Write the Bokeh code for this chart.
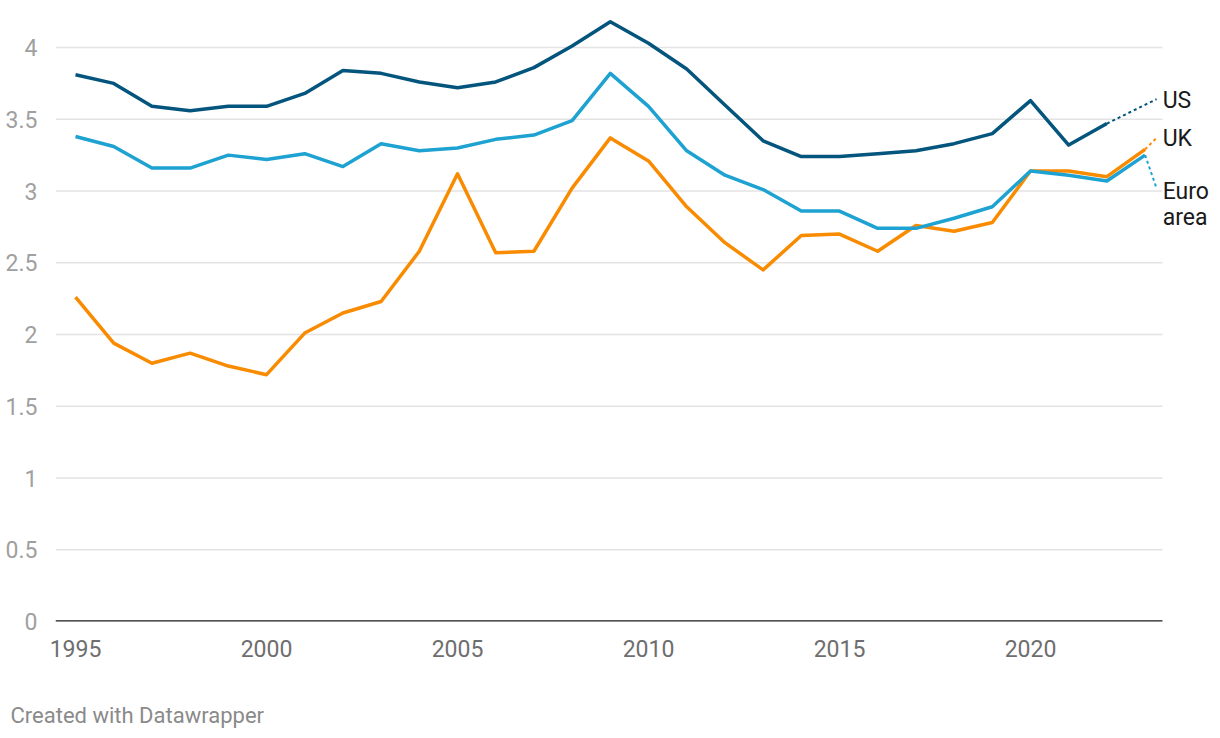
from bokeh.plotting import figure
from bokeh.models import Range1d, FixedTicker, Label, Title
from bokeh.embed import file_html
from bokeh.resources import INLINE

years = list(range(1995, 2024))

us = [3.81, 3.75, 3.59, 3.56, 3.59, 3.59, 3.68, 3.84, 3.82, 3.76, 3.72, 3.76, 3.86,
      4.01, 4.18, 4.03, 3.85, 3.60, 3.35, 3.24, 3.24, 3.26, 3.28, 3.33, 3.40, 3.63,
      3.32, 3.47]
euro = [3.38, 3.31, 3.16, 3.16, 3.25, 3.22, 3.26, 3.17, 3.33, 3.28, 3.30, 3.36, 3.39,
        3.49, 3.82, 3.59, 3.28, 3.11, 3.01, 2.86, 2.86, 2.74, 2.74, 2.81, 2.89, 3.14,
        3.11, 3.07, 3.25]
uk = [2.26, 1.94, 1.80, 1.87, 1.78, 1.72, 2.01, 2.15, 2.23, 2.58, 3.12, 2.57, 2.58,
      3.02, 3.37, 3.21, 2.89, 2.64, 2.45, 2.69, 2.70, 2.58, 2.76, 2.72, 2.78, 3.14,
      3.14, 3.10, 3.29]

series_names = ["US", "UK", "Euro area"]
series_colors = ["#03557d", "#f98b00", "#1ea2d2"]
label_texts = [["US"], ["UK"], ["Euro", "area"]]
label_y = [3.63, 3.365, 3.0]
connector_y = [3.64, 3.37, 3.02]

x_ticks = [1995, 2000, 2005, 2010, 2015, 2020]
y_ticks = [0, 0.5, 1, 1.5, 2, 2.5, 3, 3.5, 4]
y_tick_labels = ["0", "0.5", "1", "1.5", "2", "2.5", "3", "3.5", "4"]

FONT = "Roboto"

X_START = 1994.476
PLOT_END = 2023.455     # where grid and axis line stop
CONNECTOR_X = 2023.30
LABEL_X = 2023.46

p = figure(width=1220, height=738, output_backend="svg", toolbar_location=None,
           x_range=Range1d(X_START, 2024.843), y_range=Range1d(0, 4.244),
           min_border_left=55, min_border_right=5, min_border_top=12,
           min_border_bottom=117)
p.outline_line_color = None
p.background_fill_color = "white"
p.border_fill_color = "white"

p.xgrid.grid_line_color = None
p.ygrid.grid_line_color = None

# horizontal grid lines stopping at the plot's right edge
p.segment(x0=[X_START] * (len(y_ticks) - 1), y0=y_ticks[1:],
          x1=[PLOT_END] * (len(y_ticks) - 1), y1=y_ticks[1:],
          line_color="#e3e3e3", line_width=1.5)

p.yaxis.ticker = FixedTicker(ticks=y_ticks)
p.yaxis.major_label_overrides = {t: l for t, l in zip(y_ticks, y_tick_labels)}
p.yaxis.axis_line_color = None
p.yaxis.major_tick_line_color = None
p.yaxis.minor_tick_line_color = None
p.yaxis.major_label_text_font = FONT
p.yaxis.major_label_text_font_size = "23px"
p.yaxis.major_label_text_color = "#a0a0a0"
p.yaxis.major_label_standoff = 12

p.xaxis.ticker = FixedTicker(ticks=x_ticks)
p.xaxis.axis_line_color = None
p.xaxis.major_tick_line_color = None
p.xaxis.minor_tick_line_color = None
p.xaxis.major_label_text_font = FONT
p.xaxis.major_label_text_font_size = "23px"
p.xaxis.major_label_text_color = "#6e6e6e"
p.xaxis.major_label_standoff = 12
# blank axis label used only as vertical spacing before the footer
p.xaxis.axis_label = " "
p.xaxis.axis_label_text_font_size = "14px"
p.xaxis.axis_label_standoff = 22

data = [us, uk, euro]
for name, vals, col, cy in zip(series_names, data, series_colors, connector_y):
    xs = years[:len(vals)]
    p.line(xs, vals, line_color=col, line_width=3.5, line_join="round")
    p.line([xs[-1], CONNECTOR_X], [vals[-1], cy], line_color=col, line_width=2,
           line_dash="3 3")

# baseline (axis line) at zero
p.segment(x0=[X_START], y0=[0], x1=[PLOT_END], y1=[0], line_color="#1a1a1a",
          line_width=2.5)

for texts, ly in zip(label_texts, label_y):
    for i, t in enumerate(texts):
        p.add_layout(Label(x=LABEL_X, y=ly - i * 0.188, text=t, text_font=FONT,
                           text_font_size="23px", text_color="#1a1a1a",
                           text_baseline="middle", text_align="left"))

p.add_layout(Title(text="Created with Datawrapper", align="left", offset=-45,
                   standoff=0, text_font=FONT, text_font_size="22px",
                   text_font_style="normal", text_color="#8a8a8a"), "below")

open("out.html", "w").write(file_html(p, INLINE))
